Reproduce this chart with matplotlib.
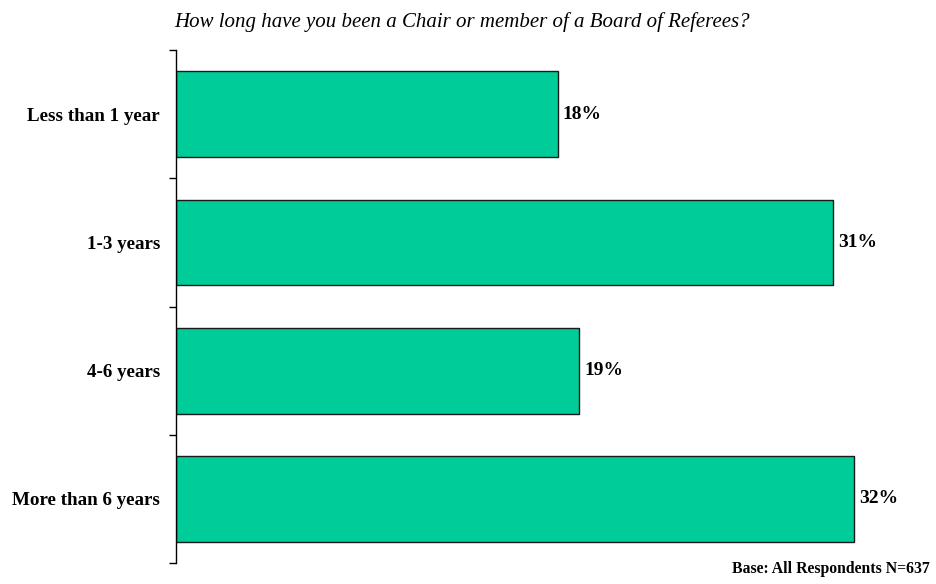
import numpy as np
import matplotlib.pyplot as plt

plt.rcParams['font.family'] = ['Liberation Serif', 'DejaVu Serif']

categories = ['Less than 1 year', '1-3 years', '4-6 years', 'More than 6 years']
values = [18, 31, 19, 32]
title = 'How long have you been a Chair or member of a Board of Referees?'
base_note = 'Base: All Respondents N=637'

fig = plt.figure(figsize=(9.36, 5.84), dpi=100)
ax = fig.add_axes([0.188, 0.036, 0.770, 0.878])

y = np.arange(len(categories))
ax.barh(y, values, height=0.67, color='#00CC99', edgecolor='#1a1a1a', linewidth=1)
ax.set_ylim(len(categories) - 0.5, -0.5)
ax.set_xlim(0, 34)

for yi, v in zip(y, values):
    ax.text(v + 0.25, yi, f'{v}%', va='center', ha='left', fontsize=14, fontweight='bold')

ax.set_yticks(y)
ax.set_yticklabels(categories, fontsize=13.7, fontweight='bold')
ax.tick_params(axis='y', which='major', length=0, pad=11.5)
ax.set_yticks(np.arange(len(categories) + 1) - 0.5, minor=True)
ax.tick_params(axis='y', which='minor', length=5, width=1, direction='out')
ax.set_xticks([])
for s in ['top', 'right', 'bottom']:
    ax.spines[s].set_visible(False)
ax.spines['left'].set_linewidth(1)

fig.text(0.494, 0.963, title, ha='center', va='center', fontsize=15, fontstyle='italic')
fig.text(0.993, 0.025, base_note, ha='right', va='center', fontsize=11.3, fontweight='bold')

fig.savefig('out.png', dpi=100)
